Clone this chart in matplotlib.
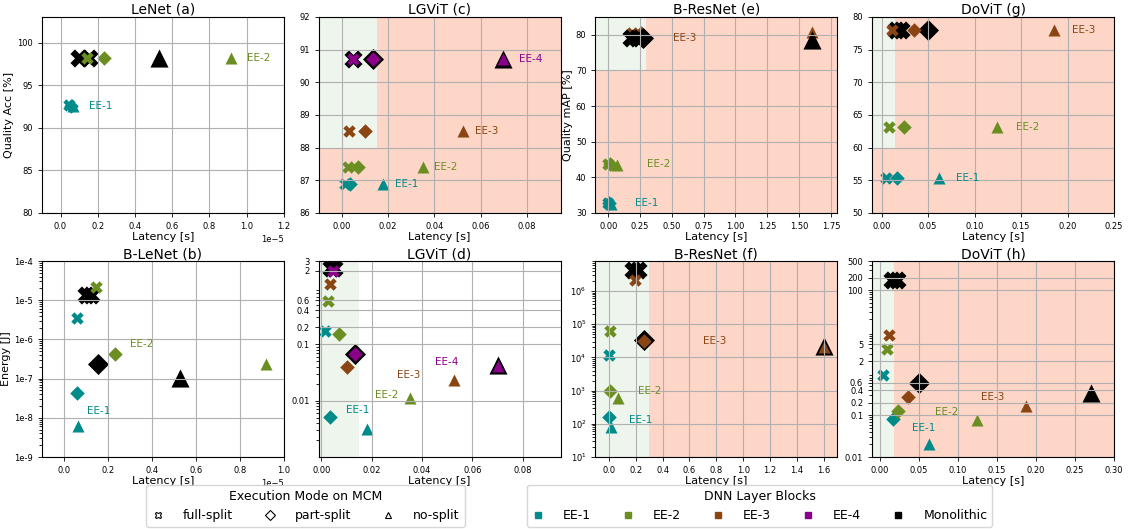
import matplotlib
matplotlib.use("Agg")
import matplotlib.pyplot as plt
from matplotlib.lines import Line2D
from matplotlib.patches import Rectangle
from matplotlib.ticker import MultipleLocator, NullFormatter

# --- data --------------------------------------------------------------
ee_names = ["EE-1", "EE-2", "EE-3", "EE-4"]
mode_names = ["full-split", "part-split", "no-split"]

# per series: [full-split, part-split, no-split]
# (a) LeNet accuracy
a_ee_lat = [[0.048e-5, 0.058e-5, 0.068e-5], [0.141e-5, 0.231e-5, 0.918e-5]]
a_ee_val = [[92.7, 92.6, 92.6], [98.2, 98.2, 98.2]]
a_mono_lat = [[0.098e-5, 0.152e-5], [], [0.527e-5]]
a_mono_val = [[98.2, 98.2], [], [98.2]]
a_lbl_x = [0.152e-5, 1.0e-5]
a_lbl_y = [92.6, 98.2]

# (b) B-LeNet energy
b_ee_lat = [[0.058e-5, 0.060e-5, 0.064e-5], [0.144e-5, 0.231e-5, 0.917e-5]]
b_ee_val = [[3.6e-6, 4.2e-8, 6.3e-9], [2.2e-5, 4.2e-7, 2.4e-7]]
b_mono_lat = [[0.100e-5, 0.122e-5], [0.157e-5], [0.527e-5]]
b_mono_val = [[1.35e-5, 1.35e-5], [2.3e-7], [1.05e-7]]
b_lbl_x = [0.106e-5, 0.30e-5]
b_lbl_y = [1.5e-8, 7.5e-7]

# (c) LGViT accuracy
c_ee_lat = [[0.0012, 0.0036, 0.0179], [0.0026, 0.0069, 0.0351],
            [0.0033, 0.0101, 0.0524], [0.0047, 0.0134, 0.0698]]
c_ee_val = [[86.9, 86.9, 86.9], [87.4, 87.4, 87.4],
            [88.5, 88.5, 88.5], [90.7, 90.7, 90.7]]
c_mono_lat = [[0.0047], [0.0134], [0.0698]]
c_mono_val = [[90.7], [90.7], [90.7]]
c_lbl_x = [0.0229, 0.0397, 0.0576, 0.0764]
c_lbl_y = [86.9, 87.4, 88.5, 90.7]

# (d) LGViT energy
d_ee_lat = [[0.0013, 0.0036, 0.0181], [0.0026, 0.0069, 0.0352],
            [0.0036, 0.0102, 0.0526], [0.0046, 0.0135, 0.0700]]
d_ee_val = [[0.17, 0.0051, 0.0032], [0.58, 0.15, 0.011],
            [1.19, 0.039, 0.0235], [2.0, 0.068, 0.042]]
d_mono_lat = [[0.0038, 0.0052], [0.0135], [0.0700]]
d_mono_val = [[2.3, 2.3], [0.068], [0.043]]
d_lbl_x = [0.0099, 0.0212, 0.0302, 0.0452]
d_lbl_y = [0.0069, 0.0126, 0.028, 0.049]

# (e) B-ResNet accuracy
e_ee_lat = [[0.0, 0.008, 0.025], [0.0, 0.015, 0.068], [0.19, 0.26, 1.60]]
e_ee_val = [[32.9, 32.9, 32.6], [43.8, 43.8, 43.6], [80.5, 80.5, 80.7]]
e_mono_lat = [[0.18, 0.23], [0.27], [1.60]]
e_mono_val = [[79.0, 79.0], [79.0], [78.5]]
e_lbl_x = [0.209, 0.306, 0.51]
e_lbl_y = [32.8, 43.8, 79.0]

# (f) B-ResNet energy
f_ee_lat = [[0.0, 0.0, 0.018], [0.005, 0.007, 0.067], [0.192, 0.26, 1.60]]
f_ee_val = [[1.2e4, 165, 80], [6.3e4, 980, 610], [2.1e6, 3.2e4, 2.1e4]]
f_mono_lat = [[0.18, 0.22], [0.26], [1.60]]
f_mono_val = [[4.2e6, 4.2e6], [3.3e4], [2.2e4]]
f_lbl_x = [0.151, 0.214, 0.70]
f_lbl_y = [127, 1000, 3.1e4]

# (g) DoViT accuracy
g_ee_lat = [[0.0046, 0.0168, 0.062], [0.0082, 0.0243, 0.124], [0.0118, 0.035, 0.186]]
g_ee_val = [[55.4, 55.4, 55.4], [63.1, 63.1, 63.1], [78.0, 78.0, 78.0]]
g_mono_lat = [[0.016, 0.021], [0.050], [0.271]]
g_mono_val = [[78.0, 78.0], [78.0], [78.0]]
g_lbl_x = [0.08, 0.145, 0.205]
g_lbl_y = [55.4, 63.1, 78.0]

# (h) DoViT energy
h_ee_lat = [[0.0042, 0.017, 0.0628], [0.0094, 0.0235, 0.124], [0.012, 0.0355, 0.187]]
h_ee_val = [[0.95, 0.083, 0.02], [3.8, 0.125, 0.076], [8.3, 0.275, 0.165]]
h_mono_lat = [[0.015, 0.0214], [0.050], [0.271]]
h_mono_val = [[180, 180], [0.6], [0.35]]
h_lbl_x = [0.041, 0.071, 0.130]
h_lbl_y = [0.05, 0.12, 0.27]

# --- styling -----------------------------------------------------------
colors = ["#008b8b", "#6b8e23", "#8b4513", "#8b008b"]
markers = ["X", "D", "^"]
ee_size = [80, 55, 75]
mono_size = [170, 115, 170]
GREEN = "#eef5ec"
SALMON = "#fdd6c8"

fig, axes = plt.subplots(2, 4, figsize=(11.28, 5.29), dpi=100)
fig.subplots_adjust(left=0.0372, right=0.9876, bottom=0.1361, top=0.9679,
                    wspace=0.1446, hspace=0.245)

panels = [
    dict(ax=axes[0, 0], lat=a_ee_lat, val=a_ee_val, mlat=a_mono_lat, mval=a_mono_val,
         lx=a_lbl_x, ly=a_lbl_y, title="LeNet (a)", ylabel="Quality Acc [%]",
         xlim=(-0.1e-5, 1.2e-5), ylim=(80, 103), log=False, ystep=5, shade=[]),
    dict(ax=axes[1, 0], lat=b_ee_lat, val=b_ee_val, mlat=b_mono_lat, mval=b_mono_val,
         lx=b_lbl_x, ly=b_lbl_y, title="B-LeNet (b)", ylabel="Energy [J]",
         xlim=(-0.1e-5, 1.0e-5), ylim=(1e-9, 1e-4), log=True,
         yticks=[1e-9, 1e-8, 1e-7, 1e-6, 1e-5, 1e-4],
         yticklabels=["1e-9", "1e-8", "1e-7", "1e-6", "1e-5", "1e-4"], shade=[]),
    dict(ax=axes[0, 1], lat=c_ee_lat, val=c_ee_val, mlat=c_mono_lat, mval=c_mono_val,
         lx=c_lbl_x, ly=c_lbl_y, title="LGViT (c)", ylabel=None,
         xlim=(-0.01, 0.0945), ylim=(86, 92), log=False, ystep=1,
         shade=[(-0.01, 0.0945, 86, 92, SALMON), (-0.01, 0.015, 88, 92, GREEN)]),
    dict(ax=axes[1, 1], lat=d_ee_lat, val=d_ee_val, mlat=d_mono_lat, mval=d_mono_val,
         lx=d_lbl_x, ly=d_lbl_y, title="LGViT (d)", ylabel=None,
         xlim=(-0.001, 0.095), ylim=(0.001, 3), log=True,
         yticks=[0.01, 0.1, 0.2, 0.4, 0.6, 2, 3],
         yticklabels=["0.01", "0.1", "0.2", "0.4", "0.6", "2", "3"],
         shade=[(-0.001, 0.015, 0.001, 3, GREEN)]),
    dict(ax=axes[0, 2], lat=e_ee_lat, val=e_ee_val, mlat=e_mono_lat, mval=e_mono_val,
         lx=e_lbl_x, ly=e_lbl_y, title="B-ResNet (e)", ylabel="Quality mAP [%]",
         xlim=(-0.1, 1.8), ylim=(30, 85), log=False, ystep=10, xstep=0.25, mono_top=True,
         shade=[(-0.1, 1.8, 30, 85, SALMON), (-0.1, 0.3, 70, 85, GREEN)]),
    dict(ax=axes[1, 2], lat=f_ee_lat, val=f_ee_val, mlat=f_mono_lat, mval=f_mono_val,
         lx=f_lbl_x, ly=f_lbl_y, title="B-ResNet (f)", ylabel=None,
         xlim=(-0.1, 1.7), ylim=(10, 8e6), log=True, xstep=0.2,
         shade=[(0.3, 1.7, 10, 8e6, SALMON), (-0.1, 0.3, 10, 8e6, GREEN)]),
    dict(ax=axes[0, 3], lat=g_ee_lat, val=g_ee_val, mlat=g_mono_lat, mval=g_mono_val,
         lx=g_lbl_x, ly=g_lbl_y, title="DoViT (g)", ylabel=None,
         xlim=(-0.01, 0.25), ylim=(50, 80), log=False, ystep=5, xstep=0.05,
         shade=[(-0.01, 0.25, 50, 80, SALMON), (-0.01, 0.015, 60, 80, GREEN)]),
    dict(ax=axes[1, 3], lat=h_ee_lat, val=h_ee_val, mlat=h_mono_lat, mval=h_mono_val,
         lx=h_lbl_x, ly=h_lbl_y, title="DoViT (h)", ylabel=None,
         xlim=(-0.01, 0.30), ylim=(0.01, 500), log=True, xstep=0.05,
         yticks=[0.01, 0.1, 0.2, 0.4, 0.6, 2, 5, 100, 200, 500],
         yticklabels=["0.01", "0.1", "0.2", "0.4", "0.6", "2", "5", "100", "200", "500"],
         shade=[(0.018, 0.30, 0.01, 500, SALMON), (-0.01, 0.018, 0.01, 500, GREEN)]),
]

for p in panels:
    ax = p["ax"]
    if p["log"]:
        ax.set_yscale("log")
    for x0, x1, y0, y1, c in p["shade"]:
        ax.add_patch(Rectangle((x0, y0), x1 - x0, y1 - y0, facecolor=c,
                               edgecolor="none", zorder=0.2))

    z_mono, z_ee = (1.2, 1.1) if p.get("mono_top") else (1.0, 1.1)
    for k in range(3):
        if p["mlat"][k]:
            ax.scatter(p["mlat"][k], p["mval"][k], s=mono_size[k], marker=markers[k],
                       color="black", linewidths=0, zorder=z_mono)
    for i in range(len(p["lat"])):
        for k in range(3):
            ax.scatter(p["lat"][i][k], p["val"][i][k], s=ee_size[k], marker=markers[k],
                       color=colors[i], linewidths=0, zorder=z_ee)
        ax.text(p["lx"][i], p["ly"][i], ee_names[i], color=colors[i], fontsize=7.5,
                ha="left", va="center", zorder=3)

    ax.set_xlim(*p["xlim"])
    ax.set_ylim(*p["ylim"])
    if "xstep" in p:
        ax.xaxis.set_major_locator(MultipleLocator(p["xstep"]))
    if "ystep" in p:
        ax.yaxis.set_major_locator(MultipleLocator(p["ystep"]))
    if "yticks" in p:
        ax.set_yticks(p["yticks"], p["yticklabels"])
        ax.yaxis.set_minor_formatter(NullFormatter())
        ax.set_ylim(*p["ylim"])
    ax.grid(True, which="major", color="#b0b0b0", linewidth=0.8)
    ax.tick_params(labelsize=6, length=3, width=0.6)
    ax.xaxis.get_offset_text().set_fontsize(6)
    ax.set_title(p["title"], fontsize=10, pad=2)
    ax.set_xlabel("Latency [s]", fontsize=8, labelpad=1)
    if p["ylabel"]:
        ax.set_ylabel(p["ylabel"], fontsize=8, labelpad=2)

mode_handles = [Line2D([], [], marker=m, linestyle="None", markerfacecolor="white",
                       markeredgecolor="black", markersize=ms, markeredgewidth=0.8)
                for m, ms in zip(markers, [5, 5.5, 4.5])]
fig.legend(mode_handles, mode_names, title="Execution Mode on MCM", ncol=3,
           loc="lower center", bbox_to_anchor=(0.2708, 0.004), fontsize=9,
           title_fontsize=9, handlelength=1, handletextpad=1.5, columnspacing=2.46,
           borderaxespad=0)

block_handles = [Line2D([], [], marker="s", linestyle="None", color=c, markersize=4)
                 for c in colors + ["black"]]
fig.legend(block_handles, ee_names + ["Monolithic"], title="DNN Layer Blocks", ncol=5,
           loc="lower center", bbox_to_anchor=(0.6733, 0.004), fontsize=9,
           title_fontsize=9, handlelength=1, handletextpad=1.5, columnspacing=2.46,
           borderaxespad=0)

fig.savefig("out.png", dpi=100)
